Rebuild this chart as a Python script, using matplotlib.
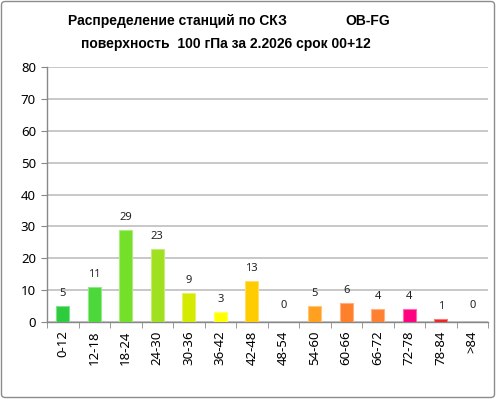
import matplotlib
matplotlib.use("Agg")
import matplotlib.pyplot as plt
from matplotlib.patches import FancyBboxPatch
from matplotlib.colors import to_rgb

plt.rcParams['font.family'] = ['Noto Sans', 'DejaVu Sans']

categories = ['0-12', '12-18', '18-24', '24-30', '30-36', '36-42', '42-48',
              '48-54', '54-60', '60-66', '66-72', '72-78', '78-84', '>84']
values = [5, 11, 29, 23, 9, 3, 13, 0, 5, 6, 4, 4, 1, 0]
colors = ['#2DCB3E', '#4CD83A', '#74E02A', '#9FE020', '#D4EA00', '#FFFF00', '#FFCC00',
          '#FFA020', '#FFA020', '#FF7F2A', '#FF8030', '#FF0080', '#EE2222', '#CC0000']
yticks = [0, 10, 20, 30, 40, 50, 60, 70, 80]
title1 = 'Распределение станций по СКЗ'
title_tag = 'OB-FG'
title2 = 'поверхность  100 гПа за 2.2026 срок 00+12'

W, H = 496, 399
fig = plt.figure(figsize=(W / 100, H / 100), dpi=100)
ax = fig.add_axes([47 / W, 1 - 322 / H, (488 - 47) / W, (322 - 67) / H])

x = list(range(len(categories)))
edges = [tuple(0.6 * c + 0.4 for c in to_rgb(col)) for col in colors]
ax.bar(x, values, width=0.41, color=colors, edgecolor=edges, linewidth=0.8, zorder=3)

for xi, v in zip(x, values):
    ax.annotate(str(v), (xi, v), xytext=(0, 5 if v > 0 else 8), textcoords='offset points',
                ha='center', va='bottom', fontsize=8, color='#222222')

ax.set_xlim(-0.5, len(categories) - 0.5)
ax.set_ylim(0, 80)
ax.set_yticks(yticks)
ax.set_yticklabels([str(t) for t in yticks], fontsize=9.5)
ax.yaxis.grid(True, color='#C8C8C8', linewidth=1.4, zorder=0)
ax.set_axisbelow(True)

ax.set_xticks(x)
ax.set_xticklabels(categories, rotation=90, fontsize=9.5)
ax.tick_params(axis='x', length=0, pad=6)
ax.set_xticks([i - 0.5 for i in range(len(categories) + 1)], minor=True)
ax.tick_params(axis='x', which='minor', length=4, color='#888888', direction='out')
ax.tick_params(axis='y', length=4, color='#888888', direction='out', pad=4)

for s in ['top', 'right']:
    ax.spines[s].set_visible(False)
for s in ['left', 'bottom']:
    ax.spines[s].set_color('#888888')
    ax.spines[s].set_linewidth(1.0)

tfont = dict(family=['Liberation Sans', 'DejaVu Sans'], fontsize=10, fontweight='bold')
fig.text(68 / W, 1 - 21 / H, title1, ha='left', va='center', **tfont)
fig.text(345 / W, 1 - 21 / H, title_tag, ha='left', va='center', **tfont)
fig.text(226 / W, 1 - 44 / H, title2, ha='center', va='center', **tfont)

border = FancyBboxPatch((1.5 / W, 1.5 / H), (W - 3) / W, (H - 3) / H,
                        boxstyle='round,pad=0,rounding_size=0.008',
                        transform=fig.transFigure, fill=False, edgecolor='#8C8C8C', linewidth=1.0)
fig.patches.append(border)

fig.savefig('out.png', dpi=100)
